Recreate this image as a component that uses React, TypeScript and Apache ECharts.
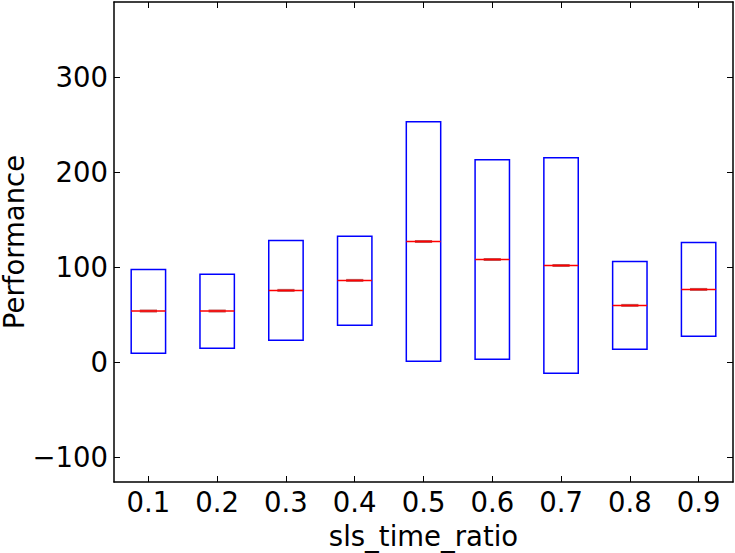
import React, { useEffect, useRef } from "react";
import * as echarts from "echarts";

const categories = ["0.1", "0.2", "0.3", "0.4", "0.5", "0.6", "0.7", "0.8", "0.9"];
const boxLow = [9.4, 14.7, 23.1, 38.8, 1.0, 3.1, -11.5, 13.6, 27.3];
const boxHigh = [97.6, 92.7, 128, 132.6, 253, 213.1, 215.2, 106, 126];
const medians = [53.9, 53.9, 75.6, 86.1, 127, 108.1, 101.8, 59.8, 76.6];
const yTicks = [-100, 0, 100, 200, 300];

const FONT = "DejaVu Sans";
const FS = 27.5;

export default function App() {
  const ref = useRef<HTMLDivElement>(null);
  useEffect(() => {
    if (!ref.current) return;
    const chart = echarts.init(ref.current, null, { renderer: "svg" });
    const data = categories.map((c, i) => [i, boxLow[i], boxHigh[i], medians[i]]);
    const axisLine = { show: true, onZero: false, lineStyle: { color: "#000", width: 1.5 } };
    chart.setOption({
      animation: false,
      grid: { left: 114, right: 2, top: 2, bottom: 71, show: false, containLabel: false, outerBoundsMode: "none" },
      xAxis: [
        {
          type: "category",
          data: categories,
          boundaryGap: true,
          position: "bottom",
          axisLine,
          axisTick: { show: true, inside: true, alignWithLabel: true, length: 6, lineStyle: { color: "#000", width: 1 } },
          axisLabel: { show: true, color: "#000", fontSize: FS, fontFamily: FONT, margin: 6 },
          splitLine: { show: false },
          name: "sls_time_ratio",
          nameLocation: "middle",
          nameGap: 40,
          nameTextStyle: { color: "#000", fontSize: FS, fontFamily: FONT },
        },
        {
          type: "category",
          data: categories,
          boundaryGap: true,
          position: "top",
          axisLine,
          axisTick: { show: true, inside: true, alignWithLabel: true, length: 6, lineStyle: { color: "#000", width: 1 } },
          axisLabel: { show: false },
          splitLine: { show: false },
        },
      ],
      yAxis: [
        {
          type: "value",
          min: -126,
          max: 379,
          position: "left",
          axisLine,
          axisTick: { show: true, inside: true, length: 6, customValues: yTicks, lineStyle: { color: "#000", width: 1 } },
          axisLabel: { show: true, color: "#000", fontSize: FS, fontFamily: FONT, margin: 6, customValues: yTicks, formatter: (v: number) => (v < 0 ? "\u2212" + Math.abs(v) : String(v)) },
          splitLine: { show: false },
          name: "Performance",
          nameLocation: "middle",
          nameGap: 86,
          nameMoveOverlap: false,
          nameTextStyle: { color: "#000", fontSize: FS, fontFamily: FONT },
        },
        {
          type: "value",
          min: -126,
          max: 379,
          position: "right",
          axisLine,
          axisTick: { show: true, inside: true, length: 6, customValues: yTicks, lineStyle: { color: "#000", width: 1 } },
          axisLabel: { show: false },
          splitLine: { show: false },
        },
      ],
      series: [
        {
          type: "custom",
          xAxisIndex: 0,
          yAxisIndex: 0,
          data,
          renderItem: (params: any, api: any) => {
            const idx = api.value(0);
            const lo = api.coord([idx, api.value(1)]);
            const hi = api.coord([idx, api.value(2)]);
            const md = api.coord([idx, api.value(3)]);
            const bw = api.size([1, 0])[0] * 0.5;
            const cx = lo[0];
            return {
              type: "group",
              children: [
                {
                  type: "rect",
                  shape: { x: cx - bw / 2, y: hi[1], width: bw, height: lo[1] - hi[1] },
                  style: { fill: "none", stroke: "#0000ff", lineWidth: 1.5 },
                },
                {
                  type: "line",
                  shape: { x1: cx - bw / 4, y1: md[1], x2: cx + bw / 4, y2: md[1] },
                  style: { stroke: "#b86060", lineWidth: 3 },
                },
                {
                  type: "line",
                  shape: { x1: cx - bw / 2, y1: md[1], x2: cx + bw / 2, y2: md[1] },
                  style: { stroke: "#ff0000", lineWidth: 1.5 },
                },
              ],
            };
          },
        },
      ],
    });
    return () => chart.dispose();
  }, []);
  return <div ref={ref} style={{ width: 735, height: 553, position: "absolute", left: 0, top: 0 }} />;
}
